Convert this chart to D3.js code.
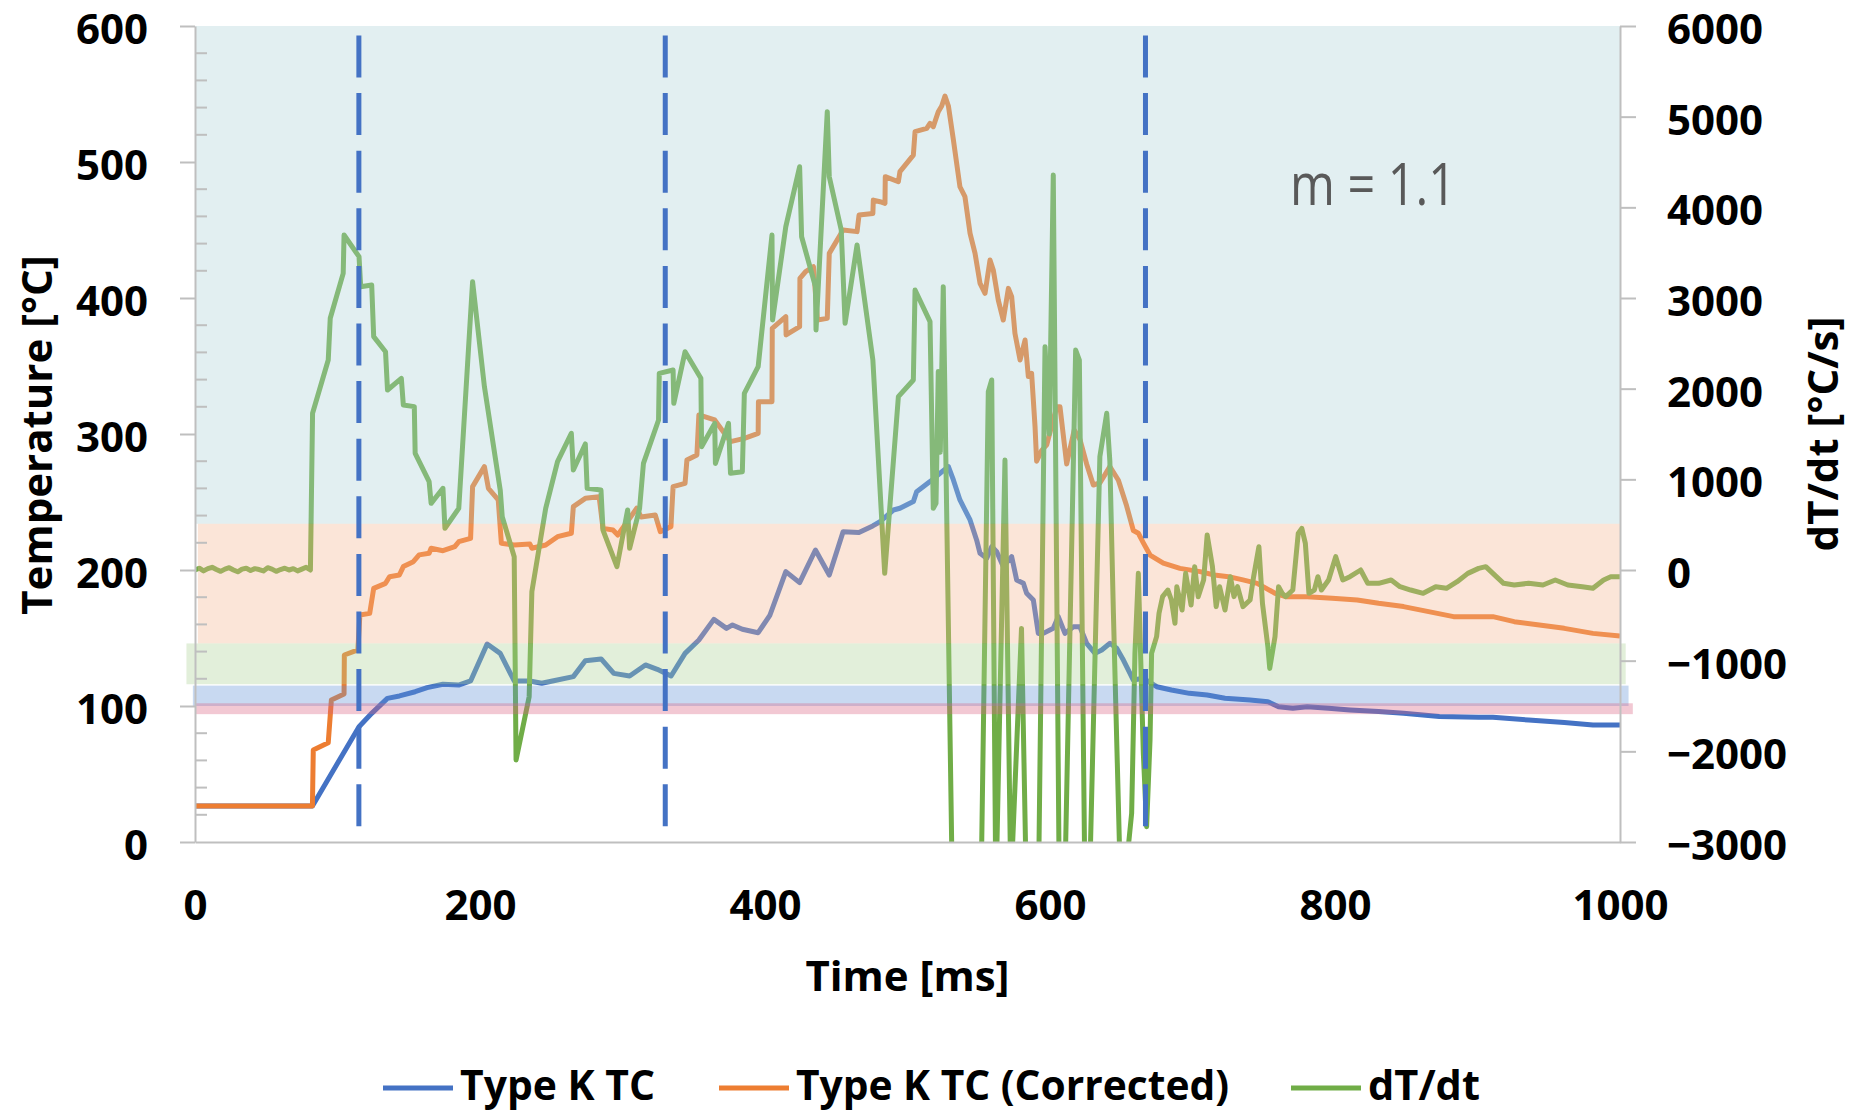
<!DOCTYPE html>
<html>
<head>
<meta charset="utf-8">
<script src="https://cdn.jsdelivr.net/npm/d3@7"></script>
<style>
  html, body { margin: 0; padding: 0; background: #fff; }
  text { font-family: "Open Sans", "Noto Sans", sans-serif; }
</style>
</head>
<body>
<script>
// ---------------- DATA ----------------
const xTicks = [0, 200, 400, 600, 800, 1000];
const yLeftTicks = [0, 100, 200, 300, 400, 500, 600];
const yRightTicks = [-3000, -2000, -1000, 0, 1000, 2000, 3000, 4000, 5000, 6000];
const seriesNames = ["Type K TC", "Type K TC (Corrected)", "dT/dt"];
const annotation = "m = 1.1";
const markerTimes = [115, 330, 667];          // ms (dashed vertical lines)
const markerRange = [10, 593];                // °C extent of dashed lines
// horizontal bands: [tStart, tEnd, tempLow, tempHigh]
const bandTop    = [0, 1000, 234, 600];
const bandOrange = [2, 1000, 146, 234];
const bandGreen  = [-6, 1004, 116, 146];
const bandBlue   = [-1.5, 1006, 100, 115];
const bandPink   = [0, 1009, 94, 102];

// Type K TC [ms, °C]
const blueData = [[0,26.5],[82.4,26.5],[115.1,84.8],[124,94.6],[135,105.6],[143.5,107.4],[154.5,110.5],[162.9,113.5],[174,116],[185,115.4],[193.4,118.4],[205,145.6],[214.2,138.7],[224,118.4],[235,118.4],[243.3,116.7],[251.7,118.6],[265.5,121.6],[273.9,133.3],[285,134.6],[293.9,124],[305,122.1],[316.1,130.2],[324.4,127],[334.1,122.1],[343.9,138.7],[353.6,148.5],[364.1,163.7],[373,157.1],[377.2,159.6],[384.1,156.4],[395.2,153.9],[403.5,166.9],[414.6,198.8],[424.3,190.7],[435.4,214.7],[445.1,196.3],[454.8,228.2],[465.9,227.5],[475.6,232.4],[480.7,235.5],[490.1,244.1],[494.7,245.4],[504.1,250.3],[506.4,257.6],[515.8,265],[522.8,271.1],[528.7,276],[532.2,266.2],[536.8,251.5],[543.9,236.8],[548.5,222.1],[550.9,212.3],[555.6,208.6],[559.1,217.2],[562.6,213.5],[567.2,202.5],[573.1,209.8],[576.6,192.7],[581.3,190.2],[583.6,182.9],[588.3,178],[591.8,153.4],[595.3,153.4],[602.3,157.1],[605.8,165.7],[610.5,153.4],[616.4,158.3],[621,158.3],[625.7,146.1],[631.6,138.7],[636.3,141.2],[642.1,146.1],[646.8,142.4],[651.5,133.8],[658.5,119.1],[665.5,120.4],[674.9,114.2],[685.2,111.8],[697.8,109.3],[710.3,108.1],[722.8,105.7],[740.4,104.4],[752.9,103.2],[760.4,99.5],[770.4,98.3],[780.5,99.5],[795.5,98.3],[810.5,97.1],[830.6,95.9],[848.1,94.6],[873.2,92.2],[900.8,91.7],[910.8,91.7],[935.9,89.7],[960.9,87.8],[981,86.1],[1000,86.1]];

// Type K TC (Corrected) [ms, °C]
const orangeData = [[0,26.5],[82.4,26.5],[83,67.7],[93.5,73],[95.7,104.4],[104.6,108.8],[104.8,137.5],[114.3,141.2],[115.7,166.9],[122.6,168.1],[125.4,186.5],[133.7,190.2],[136.5,195.1],[143.4,196.3],[146.2,202.5],[153.2,206.1],[157.3,211.1],[164.3,212.3],[165.7,216],[174,214.2],[182.3,217.2],[185.1,220.8],[193.4,223.3],[194.8,261.3],[203.1,276],[205.9,260],[212.8,251.5],[215,219.6],[224,218.4],[235,219.1],[236.4,216],[246.1,218.4],[254.4,224.5],[264.1,227],[265.5,246.6],[273.9,252.7],[283.6,253.9],[286.3,230.6],[293.3,229.4],[296.7,225.7],[310,245.4],[313,239],[323,240.4],[326.5,228.2],[334,231.9],[335.5,261.3],[343.9,263.7],[345.2,280.9],[352.2,284.6],[353.6,314],[364.7,310.3],[375.8,294.4],[385.5,296.8],[395.2,300.5],[395.4,323.8],[404.9,323.8],[405.1,377.7],[414.6,386.3],[414.8,372.8],[424.3,378.9],[424.5,414.4],[428.5,419.4],[434,423],[436.8,383.8],[443.7,385],[445.1,432.8],[454.8,450],[464.6,448.8],[466,461],[475.7,462.2],[476,472],[480.7,470.8],[484.2,469.6],[484.4,489.2],[493.6,485.5],[494.7,492.9],[504.1,505.1],[505.3,522.3],[513.5,524.7],[515.8,528.4],[518.1,526],[521.6,537],[524,541.2],[526.3,548.5],[528.7,541.2],[532.2,516.2],[536.8,481.8],[540.3,474.5],[543.9,447.5],[547.4,432.8],[550.9,410.8],[554.4,403.4],[557.9,427.9],[560.2,420.6],[563.7,398.5],[567.2,383.8],[570.8,407.1],[573.1,401],[575.4,374],[579,354.4],[582.5,369.1],[584.8,342.2],[587.1,344.6],[589.5,305.4],[590.6,280],[594.2,288],[597.7,292],[604.7,320],[607,320],[611.7,278],[617,303],[621,296],[625.7,278],[630.4,262.5],[635,264],[642,276],[648,266],[653.8,247],[658.5,229],[662,227],[665.5,220],[670.2,211],[679.5,205],[691.2,201.2],[705.3,198.8],[715.3,196.3],[725.3,195.1],[735.4,192.7],[745.4,190.2],[757.9,182.9],[765.4,180.4],[780.5,180.4],[798,179.2],[815.6,178],[830.6,175.5],[848.1,173.1],[865.7,169.4],[883.2,165.7],[910.8,165.7],[925.8,162],[943.4,159.6],[960.9,157.1],[981,153.4],[1000,151.5]];

// dT/dt [ms, °C/s]
const greenData = [[0,0],[3,20],[6,-10],[9,15],[12,30],[15,5],[18,-15],[21,10],[24,25],[27,0],[30,-20],[33,10],[36,20],[39,-5],[42,15],[45,5],[48,-10],[51,25],[54,10],[57,-15],[60,5],[63,20],[66,0],[69,15],[72,-10],[75,10],[78,30],[81,0],
[82.5,1728],[93.5,2316],[94.9,2776],[104,3272],[104.6,3695],[115.1,3456],[116.3,3125],[124,3143],[125.4,2574],[133.7,2408],[135.1,1985],[144.8,2114],[146.2,1820],[153.9,1802],[154.5,1287],[164.3,974],[165.7,735],[174,901],[175.4,460],[185.1,680],[194.8,3180],[203.1,2022],[214.2,882],[215.6,588],[224,147],[225.3,-2095],[234.5,-1397],[236.4,-239],[246.1,680],[254.4,1195],[264.1,1507],[265.5,1103],[273.9,1390],[275.2,901],[284.9,882],[286.3,441],[296.1,37],[303.6,662],[305,239],[312,680],[314.7,1176],[325.3,1655],[325.8,2169],[335.5,2206],[336,1838],[343.9,2408],[355,2114],[355.5,1360],[364.7,1617],[365.2,1176],[374.4,1617],[375.8,1066],[384.1,1084],[385.5,1948],[395.2,2243],[404.9,3695],[405.3,2757],[414.6,3787],[424.3,4448],[425.7,3676],[435.4,3125],[435.8,2647],[443.7,5055],[445.1,4338],[453.5,3750],[456.2,2721],[464.6,3585],[475.7,2316],[484,-37],[493.6,1912],[504.1,2096],[505.3,3088],[515.8,2739],[518.1,680],[520,735],[521.6,2188],[523,1300],[525.1,3125],[531,-3014],[541,-4800],[552,-3100],[556.7,1967],[559.1,2096],[562,-3600],[568.4,1213],[572.5,-3500],[580,-644],[583.5,-3600],[592,-3400],[596.5,2463],[599.5,1500],[602.3,4356],[606.5,-3500],[610.5,-3400],[618,2426],[620.6,2316],[624.5,-3500],[628,-3300],[635,1250],[639.8,1728],[642,1200],[644.5,-478],[649.5,-3500],[654,-3200],[657.3,-2684],[659.6,-919],[662,-37],[665.5,-2022],[667.8,-2831],[670.2,-1875],[671.3,-919],[674.8,-735],
[676.5,-478],[679,-294],[682.7,-221],[685.2,-331],[687.7,-588],[689,-184],[692.7,-441],[695.2,-37],[699,-386],[701.5,37],[704,-294],[707.8,-110],[710.3,386],[714,37],[716.6,-404],[719,-184],[722.8,-441],[726.6,-74],[729.1,-294],[731.6,-184],[735.4,-404],[740.4,-331],[742.9,-74],[746.6,257],[749.1,-368],[752.9,-846],[754.2,-1085],[757.9,-735],[760.4,-184],[762.9,-257],[765.4,-294],[770.4,-221],[774.2,404],[776.7,459],[779.2,294],[781.7,-257],[785.5,-221],[788,-74],[790.5,-221],[795.5,-110],[800.5,147],[805.5,-110],[810.5,-74],[818,0],[823,-147],[830.6,-147],[839.4,-110],[845.6,-184],[853.1,-221],[861.9,-257],[870.7,-184],[878.2,-202],[885.7,-129],[893.2,-37],[900.8,18],[905.8,37],[910.8,-37],[918.3,-147],[925.8,-165],[935.9,-147],[945.9,-165],[954.6,-110],[963.4,-165],[973.5,-184],[981,-202],[988.5,-110],[993.5,-74],[1000,-74]];

// ---------------- CHART ----------------
const W = 1869, H = 1112;
const pLeft = 195, pRight = 1620, pTop = 26, pBottom = 842;
const colors = { blue: "#4472C4", orange: "#ED7D31", green: "#70AD47", axis: "#BFBFBF" };
const FONT = '"Open Sans", "Noto Sans", sans-serif';

const svg = d3.select("body").append("svg")
  .attr("width", W).attr("height", H)
  .style("background", "#fff");

const x = d3.scaleLinear().domain([0, 1000]).range([pLeft, pRight]);
const yL = d3.scaleLinear().domain([0, 600]).range([pBottom, pTop]);
const yR = d3.scaleLinear().domain([-3000, 6000]).range([pBottom, pTop]);

svg.append("defs").append("clipPath").attr("id", "plotClip")
  .append("rect").attr("x", pLeft).attr("y", pTop)
  .attr("width", pRight - pLeft).attr("height", pBottom - pTop);

// lines
const lineL = d3.line().x(d => x(d[0])).y(d => yL(d[1]));
const lineR = d3.line().x(d => x(d[0])).y(d => yR(d[1]));
const gLines = svg.append("g").attr("clip-path", "url(#plotClip)");
gLines.append("path").datum(blueData).attr("d", lineL)
  .attr("fill", "none").attr("stroke", colors.blue).attr("stroke-width", 5).attr("stroke-linejoin", "round");
gLines.append("path").datum(orangeData).attr("d", lineL)
  .attr("fill", "none").attr("stroke", colors.orange).attr("stroke-width", 5).attr("stroke-linejoin", "round");
gLines.append("path").datum(greenData).attr("d", lineR)
  .attr("fill", "none").attr("stroke", colors.green).attr("stroke-width", 5).attr("stroke-linejoin", "round");

// translucent bands over the lines
const bands = [
  { b: bandTop,    c: "rgb(172,209,215)" },
  { b: bandOrange, c: "rgb(244,181,144)" },
  { b: bandGreen,  c: "rgb(172,209,149)" },
  { b: bandBlue,   c: "rgb(98,146,215)" },
  { b: bandPink,   c: "rgb(218,98,129)" }
];
svg.append("g").selectAll("rect").data(bands).join("rect")
  .attr("x", d => x(d.b[0]))
  .attr("width", d => x(d.b[1]) - x(d.b[0]))
  .attr("y", d => yL(d.b[3]))
  .attr("height", d => yL(d.b[2]) - yL(d.b[3]))
  .attr("fill", d => d.c)
  .attr("fill-opacity", 0.35);

// dashed marker lines
svg.append("g").selectAll("line").data(markerTimes).join("line")
  .attr("x1", d => x(d)).attr("x2", d => x(d))
  .attr("y1", yL(markerRange[1])).attr("y2", yL(markerRange[0]))
  .attr("stroke", colors.blue).attr("stroke-width", 5)
  .attr("stroke-dasharray", "42 15.6");

// axes
function styleAxis(g) {
  g.selectAll("path.domain").attr("stroke", colors.axis).attr("stroke-width", 2);
  g.selectAll(".tick line").attr("stroke", colors.axis).attr("stroke-width", 2);
  g.selectAll(".tick text").attr("font-family", FONT).attr("font-size", 42)
    .attr("font-weight", 700).attr("fill", "#000");
}
const axL = svg.append("g").attr("transform", `translate(${pLeft},0)`)
  .call(d3.axisLeft(yL).tickValues(yLeftTicks).tickSize(15).tickSizeOuter(0).tickPadding(32));
styleAxis(axL);
axL.selectAll(".tick text").attr("dy", "0.42em");
// minor ticks (inside)
const minor = d3.range(20, 600, 20).filter(v => v % 100 !== 0);
svg.append("g").selectAll("line").data(minor).join("line")
  .attr("x1", pLeft).attr("x2", pLeft + 12)
  .attr("y1", d => yL(d)).attr("y2", d => yL(d))
  .attr("stroke", colors.axis).attr("stroke-width", 2);

const axR = svg.append("g").attr("transform", `translate(${pRight},0)`)
  .call(d3.axisRight(yR).tickValues(yRightTicks).tickSize(16).tickSizeOuter(0).tickPadding(31)
    .tickFormat(d3.format("d")));
styleAxis(axR);
axR.selectAll(".tick text").attr("dy", "0.42em");

const axB = svg.append("g").attr("transform", `translate(0,${pBottom})`)
  .call(d3.axisBottom(x).tickValues(xTicks).tickSize(0).tickSizeOuter(0).tickPadding(48)
    .tickFormat(d3.format("d")));
styleAxis(axB);

// axis titles
svg.append("text").attr("transform", `translate(52,435) rotate(-90)`)
  .attr("text-anchor", "middle").attr("font-family", FONT).attr("font-size", 42)
  .attr("font-weight", 700).text("Temperature [°C]");
svg.append("text").attr("transform", `translate(1838,434) rotate(-90)`)
  .attr("text-anchor", "middle").attr("font-family", FONT).attr("font-size", 42)
  .attr("font-weight", 700).text("dT/dt [°C/s]");
svg.append("text").attr("x", (pLeft + pRight) / 2).attr("y", 991)
  .attr("text-anchor", "middle").attr("font-family", FONT).attr("font-size", 42)
  .attr("font-weight", 700).text("Time [ms]");

// annotation
svg.append("text").attr("x", 1290).attr("y", 205)
  .attr("font-family", FONT).attr("font-size", 58).attr("fill", "#595959")
  .attr("textLength", 166).attr("lengthAdjust", "spacingAndGlyphs")
  .text(annotation);

// legend
const legendItems = [
  { name: seriesNames[0], c: colors.blue,   x0: 383, w: 195 },
  { name: seriesNames[1], c: colors.orange, x0: 719, w: 433 },
  { name: seriesNames[2], c: colors.green,  x0: 1291, w: 112 }
];
const lg = svg.append("g").selectAll("g").data(legendItems).join("g");
lg.append("line").attr("x1", d => d.x0).attr("x2", d => d.x0 + 70)
  .attr("y1", 1088).attr("y2", 1088).attr("stroke", d => d.c).attr("stroke-width", 5);
lg.append("text").attr("x", d => d.x0 + 77).attr("y", 1100)
  .attr("font-family", FONT).attr("font-size", 42).attr("font-weight", 700)
  .attr("textLength", d => d.w).attr("lengthAdjust", "spacingAndGlyphs")
  .text(d => d.name);
</script>
</body>
</html>
